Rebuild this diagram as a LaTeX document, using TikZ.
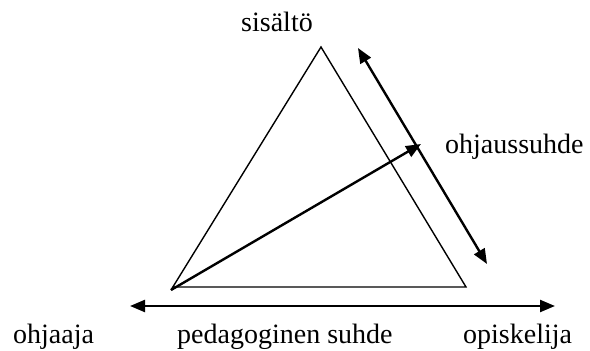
\documentclass[tikz,border=0pt]{standalone}
\usepackage{fontspec}
\setmainfont{Liberation Serif}
\usetikzlibrary{arrows.meta}
\begin{document}
\begin{tikzpicture}[x=1pt,y=-1pt,
  lbl/.style={inner sep=0pt,anchor=base west,font=\fontsize{28}{32}\selectfont},
  thin line/.style={line width=1.4pt},
  arr/.style={line width=2.4pt,-{Triangle[length=15pt,width=12pt]}},
  darr/.style={line width=2.4pt,{Triangle[length=15pt,width=12pt]}-{Triangle[length=15pt,width=12pt]}}]
\useasboundingbox (0,0) rectangle (590,351);
\coordinate (A) at (321,47);
\coordinate (L) at (171,290);
\coordinate (Lb) at (173.5,287);
\coordinate (R) at (466,287);
\coordinate (T) at (421,144);
\coordinate (D1) at (358,48);
\coordinate (D2) at (487,264);
\coordinate (H1) at (130,306);
\coordinate (H2) at (555,306);
\draw[thin line,line join=miter] (L) -- (A) -- (R) -- (Lb);
\draw[arr] (L) -- (T);
\draw[darr] (D1) -- (D2);
\draw[darr] (H1) -- (H2);
\node[lbl,anchor=base] (s) at (277,31) {sisältö};
\node[lbl] (oh) at (445,153) {ohjaussuhde};
\node[lbl] (oj) at (13,343) {ohjaaja};
\node[lbl] (ps) at (177,343) {pedagoginen suhde};
\node[lbl] (op) at (463,343) {opiskelija};
\end{tikzpicture}
\end{document}
